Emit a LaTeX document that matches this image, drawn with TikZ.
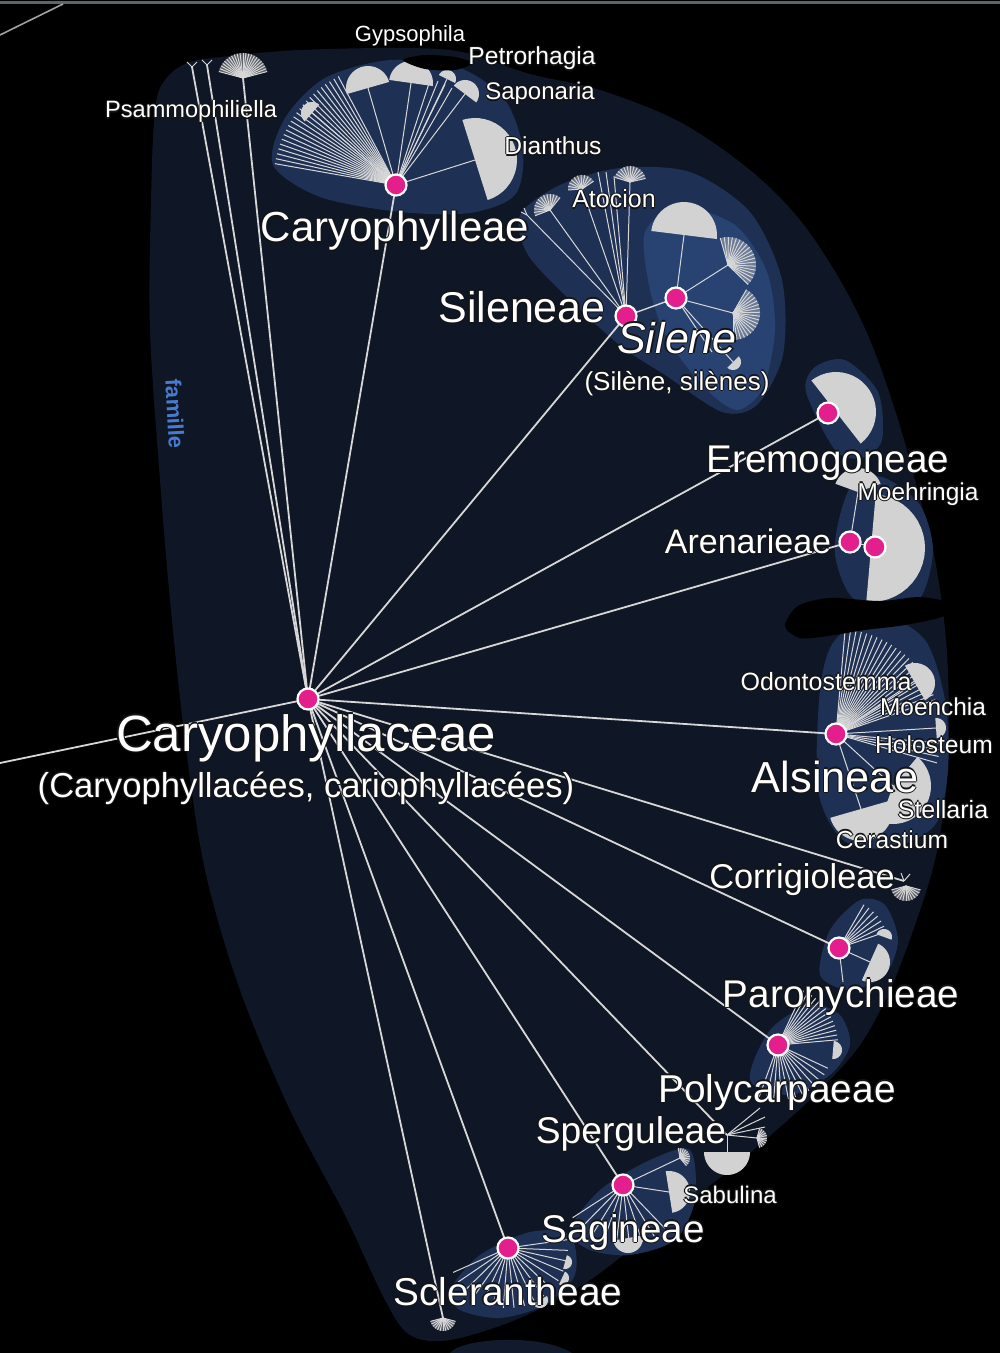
\documentclass[tikz,border=0pt]{standalone}
\usepackage{fontspec}
\setmainfont{Liberation Sans}
\definecolor{blobA}{RGB}{15,22,37}
\definecolor{blobB}{RGB}{30,48,84}
\definecolor{blobC}{RGB}{40,66,114}
\definecolor{lnc}{RGB}{215,215,215}
\definecolor{wcol}{RGB}{210,210,210}
\definecolor{pink}{RGB}{228,30,140}
\definecolor{fam}{RGB}{72,122,205}
\definecolor{barc}{RGB}{95,99,110}
\definecolor{shad}{RGB}{20,20,20}
\newcommand{\outl}[1]{\leavevmode\rlap{\textcolor{shad}{\kern-0.6pt#1}}\rlap{\textcolor{shad}{\kern0.6pt#1}}\rlap{\textcolor{shad}{\raisebox{0.6pt}{#1}}}\rlap{\textcolor{shad}{\raisebox{-0.6pt}{#1}}}#1}
\newcommand{\fw}[5]{\fill[wcol] (#1,#2) -- plot[domain=#3:#4,samples=24,variable=\t] ({#1+#5*cos(\t)},{#2-#5*sin(\t)}) -- cycle;}
\newcommand{\spk}[5]{\foreach \i in {0,...,#4}{\pgfmathsetmacro\spang{#2+(#3-#2)*\i/#4}\draw[spoke] (#1) -- ++({-\spang}:#5);}}
\newcommand{\dand}[5]{\pgfmathsetmacro\dda{#3-75}\pgfmathsetmacro\ddb{#3+75}%
 \fill[wcol,opacity=0.4] (#1,#2) -- plot[domain=\dda:\ddb,samples=16,variable=\t] ({#1+#4*cos(\t)},{#2-#4*sin(\t)}) -- cycle;%
 \foreach \i in {0,...,#5}{\pgfmathsetmacro\ddc{\dda+150*\i/#5}\draw[spoke] (#1,#2) -- ({#1+#4*cos(\ddc)},{#2-#4*sin(\ddc)});}}
\begin{document}
\begin{tikzpicture}[x=0.5pt,y=-0.5pt,
 link/.style={draw=lnc,line width=0.9pt},
 spoke/.style={draw=lnc,line width=0.5pt},
 pnode/.style={circle,fill=pink,draw=white,line width=1.1pt,minimum size=10.5pt,inner sep=0pt},
 lbl/.style={text=white,inner sep=0pt,anchor=base,font=\fontsize{#1}{#1}\selectfont},
 lbli/.style={text=white,inner sep=0pt,anchor=base,font=\fontsize{#1}{#1}\selectfont\itshape}]
\fill[black] (0,0) rectangle (1000,1353);
\useasboundingbox (0,0) rectangle (1000,1353);
% main family hull
\fill[blobA] plot[smooth cycle, tension=0.55] coordinates {(155,110) (165,80) (190,62) (240,55) (300,50) (400,48) (462,52) (530,74) (600,90) (680,122) (750,170) (800,220) (840,280) (870,340) (895,410) (915,480) (935,560) (946,640) (949,720) (946,790) (935,860) (915,925) (890,990) (860,1045) (820,1090) (780,1127) (727,1172) (660,1225) (590,1280) (520,1318) (450,1340) (410,1335) (385,1300) (345,1215) (290,1110) (240,990) (205,870) (185,740) (170,600) (160,480) (150,330) (151,200)};
\fill[blobA!80!blobB] (450,1353) .. controls (462,1338) and (540,1333) .. (572,1353) -- cycle;
% tribe hulls
\fill[blobB] plot[smooth cycle] coordinates {(273,165) (285,118) (325,78) (390,60) (460,68) (505,100) (523,150) (515,195) (470,213) (400,212) (320,197)};
\fill[blobB] plot[smooth cycle] coordinates {(520,215) (560,185) (620,168) (690,172) (750,212) (782,280) (783,355) (757,405) (722,412) (665,375) (622,347) (572,302) (528,255)};
\fill[blobC] plot[smooth cycle] coordinates {(645,232) (680,207) (735,225) (767,272) (775,330) (763,388) (737,410) (705,388) (668,340) (650,290)};
\fill[blobB] plot[smooth cycle] coordinates {(806,392) (815,367) (845,360) (878,392) (882,440) (862,458) (835,450)};
\fill[blobB] plot[smooth cycle] coordinates {(835,555) (840,515) (855,480) (885,478) (920,505) (933,550) (920,598) (882,612) (850,595)};
\fill[blobB] plot[smooth cycle] coordinates {(818,790) (820,690) (835,640) (880,615) (925,640) (945,700) (948,770) (935,825) (890,848) (843,840)};
\fill[blobB] plot[smooth cycle] coordinates {(820,975) (830,930) (860,900) (885,905) (898,940) (885,975) (850,990)};
\fill[blobB] plot[smooth cycle] coordinates {(750,1080) (770,1030) (810,1005) (840,1015) (850,1045) (830,1075) (790,1095)};
\fill[blobB] plot[smooth cycle] coordinates {(570,1230) (600,1190) (650,1160) (690,1150) (695,1200) (675,1240) (630,1255) (590,1250)};
\fill[blobB] plot[smooth cycle] coordinates {(450,1290) (480,1255) (530,1232) (570,1235) (575,1275) (545,1305) (500,1318) (460,1310)};
% top bar
\fill[barc] (0,1) rectangle (1000,4.5);
\coordinate (tlA) at (0,35);
\coordinate (tlB) at (63,4);
\draw[draw=lnc!75!black,line width=0.8pt] (tlA) -- (tlB);
% coordinates
\coordinate (R) at (308,699);
\coordinate (Lft) at (0,763);
\coordinate (T1) at (192,67);
\coordinate (T2) at (207,65);
\coordinate (T3) at (243,78);
\coordinate (C) at (396,185);
\coordinate (S) at (626,316);
\coordinate (N) at (676,298);
\coordinate (E) at (828,413);
\coordinate (A1) at (850,542);
\coordinate (A2) at (875,547);
\coordinate (L) at (836,734);
\coordinate (Co) at (904,881);
\coordinate (P) at (839,948);
\coordinate (Y) at (778,1045);
\coordinate (G) at (727,1135);
\coordinate (Q) at (623,1185);
\coordinate (K) at (508,1248);
\coordinate (Bt) at (443,1318);
% links from the family
\foreach \tgt in {Lft,T1,T2,T3,C,S,E,A1,L,Co,P,Y,G,Q,K,Bt} \draw[link] (R) -- (\tgt);
% top-left genera
\draw[spoke] (T1) -- ++(-5,-5); \draw[spoke] (T1) -- ++(5,-5);
\draw[spoke] (T2) -- ++(-5,-5); \draw[spoke] (T2) -- ++(5,-5);
\dand{243}{78}{90}{25}{22}
% Caryophylleae
\spk{C}{118}{170}{22}{123}
\spk{C}{60}{72}{3}{112}
\coordinate (wA) at (368,88); \coordinate (wB) at (411,83); \coordinate (wC) at (447,79);
\coordinate (wD) at (465,94); \coordinate (wE) at (475,160); \coordinate (wF) at (312,113);
\foreach \w in {wA,wB,wC,wD,wE,wF} \draw[spoke] (C) -- (\w);
\fw{368}{88}{16}{196}{22}
\fw{411}{83}{-8}{172}{22}
\fw{447}{79}{-26}{154}{9}
\fw{465}{94}{-37}{143}{14}
\fw{475}{160}{-72.5}{107.5}{42}
\fw{312}{113}{49}{229}{11}
% Sileneae
\coordinate (s1) at (527,215); \coordinate (s2) at (550,210); \coordinate (s3) at (582,189);
\coordinate (s4) at (598,172); \coordinate (s5) at (606,172); \coordinate (s6) at (630,182); \coordinate (s7) at (614,176);
\foreach \w in {s1,s2,s3,s4,s5,s6,s7} \draw[spoke] (S) -- (\w);
\draw[spoke] (s1) -- ++(-6,-3); \draw[spoke] (s1) -- ++(-3,-7);
\dand{550}{210}{126}{16}{12}
\dand{582}{189}{109}{14}{10}
\dand{630}{182}{88}{16}{12}
\draw[spoke,line width=0.7pt] (S) -- (N);
% Silene
\coordinate (n1) at (684,235); \coordinate (n2) at (728,265); \coordinate (n3) at (733,313);
\coordinate (n4) at (733,362); \coordinate (n5) at (712,352);
\foreach \w in {n1,n2,n3,n4,n5} \draw[spoke] (N) -- (\w);
\fw{684}{235}{-7}{173}{33}
\dand{728}{265}{31}{28}{18}
\dand{733}{313}{-15}{27}{18}
\fw{733}{362}{-135}{45}{8}
% Eremogoneae / Arenarieae
\fw{836}{412}{-52}{128}{40}
\fw{871}{548}{-95}{85}{54}
\coordinate (a3) at (858,492);
\draw[spoke] (A1) -- (a3);
\fw{858}{492}{20}{160}{24}
\draw[spoke] (A1) -- (A2);
% Alsineae
\spk{L}{19}{85}{22}{105}
\spk{L}{-16}{-5}{3}{105}
\coordinate (l1) at (915,683); \coordinate (l2) at (936,728); \coordinate (l3) at (893,786); \coordinate (l4) at (861,809);
\foreach \w in {l1,l2,l3,l4} \draw[spoke] (L) -- (\w);
\fw{915}{683}{-60}{120}{20}
\fw{936}{728}{-86}{94}{10}
\fw{893}{786}{-110}{50}{38}
\fw{861}{809}{-164}{16}{32}
% Corrigioleae
\draw[spoke] (Co) -- ++(-3,-8); \draw[spoke] (Co) -- ++(6,-7);
\dand{906}{886}{-90}{15}{12}
% Paronychieae
\spk{P}{19}{60}{6}{50}
\coordinate (p1) at (870,962); \coordinate (p2) at (843,982);
\draw[spoke] (P) -- (p1); \draw[spoke] (P) -- (p2);
\fw{884}{937}{-20}{160}{8}
\fw{870}{962}{-114}{66}{20}
% Polycarpaeae
\spk{Y}{5}{65}{13}{60}
\spk{Y}{-110}{-25}{11}{55}
\fw{833}{1050}{-95}{85}{9}
% Sperguleae
\coordinate (g1) at (760,1108); \coordinate (g2) at (765,1117); \coordinate (g3) at (765,1127);
\coordinate (g4) at (757,1138); \coordinate (g5) at (727,1152);
\foreach \w in {g1,g2,g3,g4,g5} \draw[spoke] (G) -- (\w);
\dand{757}{1138}{0}{10}{10}
\fw{727}{1152}{180}{360}{23}
% Sagineae
\coordinate (q1) at (680,1158); \coordinate (q2) at (669,1192);
\draw[spoke] (Q) -- (q1); \draw[spoke] (Q) -- (q2);
\dand{680}{1158}{25}{10}{10}
\fw{669}{1192}{-81}{99}{21}
\spk{Q}{-147}{-46}{8}{60}
\fw{628}{1238}{-170}{10}{15}
% Sclerantheae
\spk{K}{-156}{8}{16}{60}
\fw{565}{1262}{-105}{75}{7}
\fw{562}{1278}{-115}{65}{7}
\fw{540}{1300}{-150}{30}{8}
\dand{443}{1318}{-90}{13}{12}
% pink nodes
\node[pnode] (nR) at (R) {};
\node[pnode] (nC) at (C) {};
\node[pnode] (nS) at (S) {};
\node[pnode] (nN) at (N) {};
\node[pnode] (nE) at (E) {};
\node[pnode] (nA1) at (A1) {};
\node[pnode] (nA2) at (A2) {};
\node[pnode] (nL) at (L) {};
\node[pnode] (nP) at (P) {};
\node[pnode] (nY) at (Y) {};
\node[pnode] (nQ) at (Q) {};
\node[pnode] (nK) at (K) {};
% redactions
\fill[black] plot[smooth cycle] coordinates {(403,60) (425,55) (455,57) (472,63) (455,70) (425,69)};
\fill[black] plot[smooth cycle] coordinates {(785,626) (798,606) (830,598) (880,601) (920,597) (948,603) (944,616) (905,625) (865,630) (828,636) (800,638)};
% labels
\node[lbl=25.5] (tR) at (306,751) {\outl{Caryophyllaceae}};
\node[lbl=17.3] (tR2) at (306,797) {\outl{(Caryophyllacées, cariophyllacées)}};
\node[lbl=21] (tC) at (395,242) {\outl{Caryophylleae}};
\node[lbl=21.5] (tS) at (522,322) {\outl{Sileneae}};
\node[lbli=21.5] (tN) at (677,353) {\outl{Silene}};
\node[lbl=13] (tN2) at (677,390) {\outl{(Silène, silènes)}};
\node[lbl=19.3] (tE) at (828,472) {\outl{Eremogoneae}};
\node[lbl=17] (tA) at (748,553) {\outl{Arenarieae}};
\node[lbl=21.7] (tL) at (835,792) {\outl{Alsineae}};
\node[lbl=17.2] (tCo) at (802,888) {\outl{Corrigioleae}};
\node[lbl=19.3] (tP) at (841,1007) {\outl{Paronychieae}};
\node[lbl=19.4] (tY) at (777,1102) {\outl{Polycarpaeae}};
\node[lbl=18.6] (tG) at (631,1143) {\outl{Sperguleae}};
\node[lbl=19.3] (tQ) at (623,1242) {\outl{Sagineae}};
\node[lbl=19.4] (tK) at (508,1305) {\outl{Sclerantheae}};
\node[lbl=11] (tGy) at (410,42) {Gypsophila};
\node[lbl=12.3] (tPe) at (532,65) {\outl{Petrorhagia}};
\node[lbl=12] (tSa) at (540,100) {\outl{Saponaria}};
\node[lbl=12.3] (tDi) at (553,155) {\outl{Dianthus}};
\node[lbl=11.8] (tPs) at (191,118) {\outl{Psammophiliella}};
\node[lbl=12.5] (tAt) at (614,208) {\outl{Atocion}};
\node[lbl=12.2] (tMo) at (918,500) {\outl{Moehringia}};
\node[lbl=12.5] (tOd) at (826,690) {\outl{Odontostemma}};
\node[lbl=12.2] (tMc) at (933,715) {\outl{Moenchia}};
\node[lbl=12.3] (tHo) at (934,753) {\outl{Holosteum}};
\node[lbl=12.5] (tSt) at (943,818) {\outl{Stellaria}};
\node[lbl=12.3] (tCe) at (892,848) {\outl{Cerastium}};
\node[lbl=12] (tSb) at (730,1203) {\outl{Sabulina}};
\node[text=fam,font=\bfseries\fontsize{11}{11}\selectfont,rotate=-87,inner sep=0pt] (tfam) at (175,414) {famille};
\end{tikzpicture}
\end{document}
